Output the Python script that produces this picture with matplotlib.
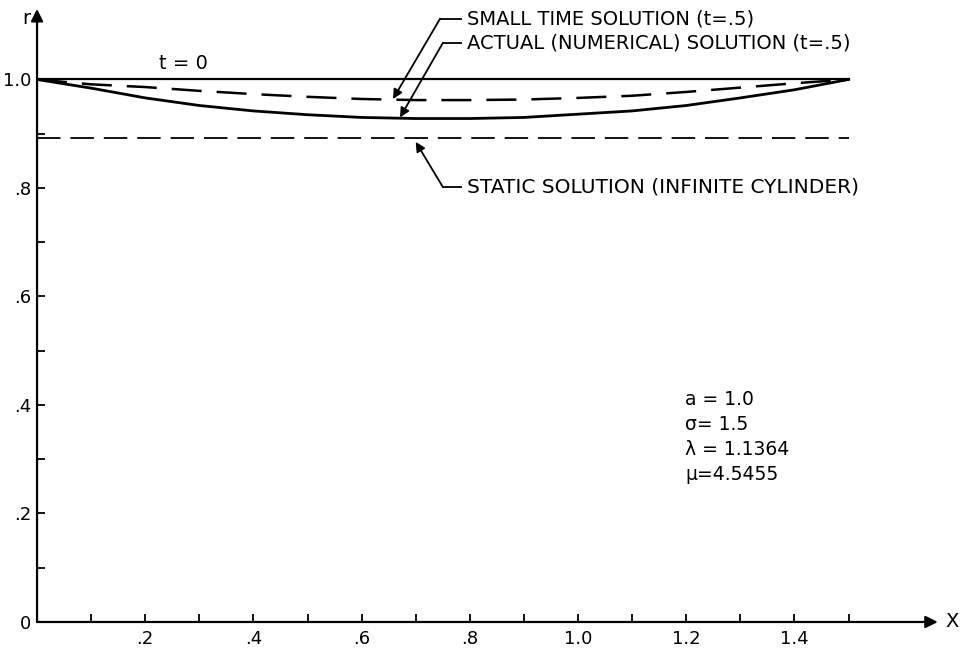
import matplotlib
matplotlib.use('Agg')
import matplotlib.pyplot as plt

# values
x = [0.0, 0.1, 0.2, 0.3, 0.4, 0.5, 0.6, 0.7, 0.8, 0.9, 1.0, 1.1, 1.2, 1.3, 1.4, 1.5]
r_actual = [1.000, 0.984, 0.966, 0.952, 0.942, 0.935, 0.930, 0.928, 0.928, 0.930,
            0.936, 0.942, 0.952, 0.966, 0.981, 1.000]
r_small = [1.000, 0.991, 0.986, 0.979, 0.973, 0.968, 0.964, 0.962, 0.962, 0.963,
           0.966, 0.970, 0.977, 0.985, 0.993, 1.000]
r_static = 0.892
r_initial = 1.0

x_ticks = [0.1 * i for i in range(1, 16)]
x_labels = ['', '.2', '', '.4', '', '.6', '', '.8', '', '1.0', '', '1.2', '', '1.4', '']
y_ticks = [0.1 * i for i in range(0, 11)]
y_labels = ['0', '', '.2', '', '.4', '', '.6', '', '.8', '', '1.0']

params = ['a = 1.0', 'σ= 1.5', 'λ = 1.1364', 'μ=4.5455']

plt.rcParams['font.family'] = 'DejaVu Sans'

fig = plt.figure(figsize=(9.62, 6.5), dpi=100)
ax = fig.add_axes([0.0385, 0.0431, 0.956, 0.9515])
ax.set_xlim(0, 1.70)
ax.set_ylim(0, 1.14)
for s in ax.spines.values():
    s.set_visible(False)

# axes with arrows
ax.annotate('', xy=(0, 1.13), xytext=(0, 0),
            arrowprops=dict(arrowstyle='-|>', lw=1.6, color='black', mutation_scale=18,
                            shrinkA=0, shrinkB=0))
ax.annotate('', xy=(1.665, 0), xytext=(0, 0),
            arrowprops=dict(arrowstyle='-|>', lw=1.6, color='black', mutation_scale=18,
                            shrinkA=0, shrinkB=0))
ax.text(-0.012, 1.112, 'r', fontsize=14, ha='right', va='center')
ax.text(1.692, 0.0, 'X', fontsize=14, ha='center', va='center')

ax.set_xticks(x_ticks)
ax.set_xticklabels(x_labels)
ax.set_yticks(y_ticks)
ax.set_yticklabels(y_labels)
ax.tick_params(direction='in', length=6, width=1.3, labelsize=13, pad=6)
ax.tick_params(axis='y', pad=4)

# curves
ax.plot([x[0], x[-1]], [r_initial, r_initial], color='black', lw=1.6)
ax.plot(x, r_actual, color='black', lw=2.0)
ax.plot(x, r_small, color='black', lw=1.8, dashes=(12, 6))
ax.plot([x[0], x[-1]], [r_static, r_static], color='black', lw=1.3, dashes=(13, 5.5))

ax.text(0.27, 1.012, 't = 0', fontsize=14, ha='center', va='bottom')

arrow = dict(arrowstyle='-|>', lw=1.3, color='black', mutation_scale=14, shrinkA=0, shrinkB=0)
ax.annotate('', xy=(0.658, 0.964), xytext=(0.745, 1.112), arrowprops=arrow)
ax.plot([0.745, 0.783], [1.112, 1.112], color='black', lw=1.3)
ax.text(0.795, 1.112, 'SMALL TIME SOLUTION (t=.5)', fontsize=14, va='center')

ax.annotate('', xy=(0.671, 0.930), xytext=(0.750, 1.067), arrowprops=arrow)
ax.plot([0.750, 0.783], [1.067, 1.067], color='black', lw=1.3)
ax.text(0.795, 1.067, 'ACTUAL (NUMERICAL) SOLUTION (t=.5)', fontsize=14, va='center')

ax.annotate('', xy=(0.700, 0.885), xytext=(0.750, 0.802), arrowprops=arrow)
ax.plot([0.750, 0.783], [0.802, 0.802], color='black', lw=1.3)
ax.text(0.795, 0.802, 'STATIC SOLUTION (INFINITE CYLINDER)', fontsize=14.5, va='center')

for i, p in enumerate(params):
    ax.text(1.198, 0.41 - i * 0.046, p, fontsize=13.5, va='center', ha='left')

fig.savefig('out.png', dpi=100)
